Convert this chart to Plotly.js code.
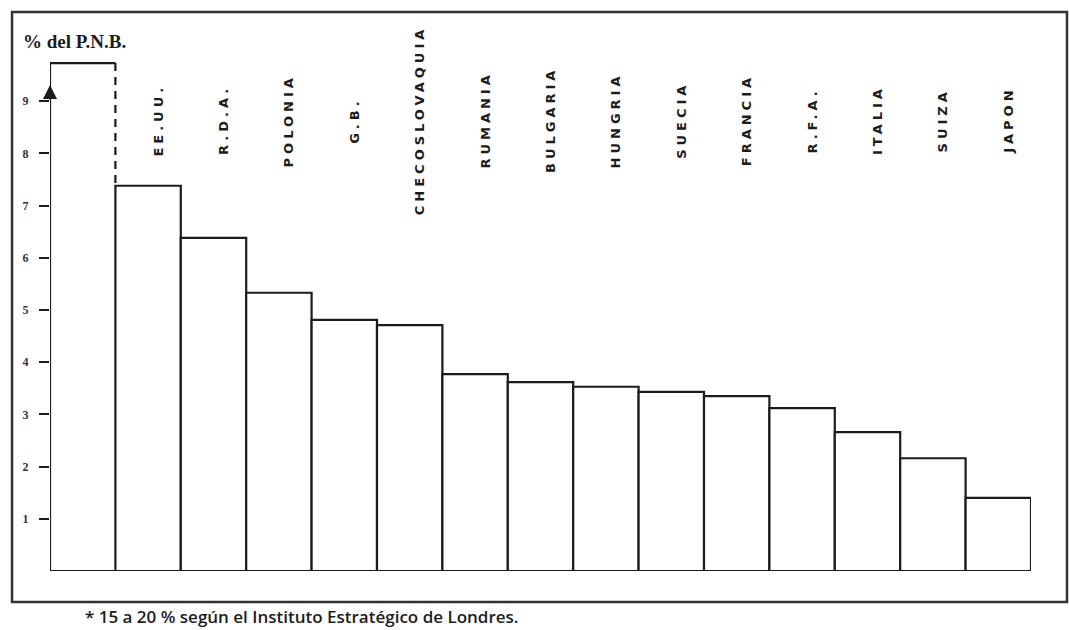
<!DOCTYPE html>
<html>
<head>
<meta charset="utf-8">
<script src="https://cdn.plot.ly/plotly-3.0.1.min.js"></script>
<style>
  html, body { margin: 0; padding: 0; background: #fff; }
  #chart { width: 1069px; height: 630px; }
  .annotation-text.country { letter-spacing: 4px; }
</style>
</head>
<body>
<div id="chart"></div>
<script>
// ---- data ----
const categories = ["URSS*", "EE.UU.", "R.D.A.", "POLONIA", "G.B.", "CHECOSLOVAQUIA", "RUMANIA",
  "BULGARIA", "HUNGRIA", "SUECIA", "FRANCIA", "R.F.A.", "ITALIA", "SUIZA", "JAPON"];
const shownLabels = ["", "EE.UU.", "R.D.A.", "POLONIA", "G.B.", "CHECOSLOVAQUIA", "RUMANIA",
  "BULGARIA", "HUNGRIA", "SUECIA", "FRANCIA", "R.F.A.", "ITALIA", "SUIZA", "JAPON"];
const values = [9.73, 7.38, 6.38, 5.33, 4.81, 4.71, 3.77, 3.62, 3.53, 3.43, 3.35, 3.12, 2.66, 2.16, 1.40];
const yTickVals = [1, 2, 3, 4, 5, 6, 7, 8, 9];
const yTickText = ["1", "2", "3", "4", "5", "6", "7", "8", "9"];
const titleText = "% del P.N.B.";
const footnoteText = "* 15 a 20 % según el Instituto Estratégico de Londres.";

// ---- build ----
const idx = categories.map((_, i) => i);
const ink = "#1c1c1c";

const bars = {
  type: "bar",
  x: idx,
  y: values,
  width: 1,
  marker: {
    color: "#ffffff",
    line: { color: ink, width: idx.map(i => (i === 0 ? 0 : 2.2)) }
  },
  cliponaxis: false,
  hoverinfo: "skip"
};

// truncated first bar: solid left/top/bottom, dashed right edge down to the next bar
const v0 = values[0], v1 = values[1];
const firstSolid = {
  type: "scatter", mode: "lines",
  x: [0.5, -0.5, -0.5, 0.5],
  y: [0, 0, v0, v0],
  line: { color: ink, width: 2.2 },
  cliponaxis: false, hoverinfo: "skip"
};
const firstDashed = {
  type: "scatter", mode: "lines",
  x: [0.5, 0.5],
  y: [v0, v1],
  line: { color: ink, width: 2.2, dash: "8px,6px" },
  cliponaxis: false, hoverinfo: "skip"
};

const annotations = [];
shownLabels.forEach((lab, i) => {
  if (!lab) return;
  annotations.push({
    x: i, y: 8.63, xref: "x", yref: "y",
    text: lab, showarrow: false, textangle: -90,
    xanchor: "center", yanchor: "middle", xshift: 10,
    font: { family: "DejaVu Sans", size: 13, color: ink, weight: 700 },
    captureevents: false
  });
});
// arrow at the top of the vertical axis
annotations.push({
  x: -0.5, y: 9.31, xref: "x", yref: "y",
  text: "", showarrow: true, ax: 0, ay: 16,
  arrowhead: 2, arrowsize: 1.4, arrowwidth: 2, arrowcolor: ink
});
// footnote
annotations.push({
  x: 0.0336, y: -0.087, xref: "paper", yref: "paper",
  text: footnoteText, showarrow: false,
  xanchor: "left", yanchor: "middle",
  font: { family: "Open Sans", size: 17, color: ink, weight: 600 }
});

const layout = {
  width: 1069, height: 630,
  margin: { l: 50, r: 38, t: 49, b: 59, pad: 0 },
  paper_bgcolor: "#ffffff", plot_bgcolor: "#ffffff",
  showlegend: false,
  bargap: 0,
  title: {
    text: titleText,
    x: 0.0215, xanchor: "left", xref: "container",
    y: 0.935, yanchor: "middle", yref: "container",
    font: { family: "Liberation Serif", size: 19, color: ink, weight: 700 }
  },
  xaxis: {
    range: [-0.5, 14.5], showgrid: false, zeroline: false,
    showticklabels: false, showline: false, ticks: "", fixedrange: true
  },
  yaxis: {
    range: [0, 10], showgrid: false, zeroline: false, showline: false,
    tickvals: yTickVals, ticktext: yTickText,
    ticks: "outside", ticklen: 10, tickwidth: 2, tickcolor: ink,
    ticklabelstandoff: 8,
    tickfont: { family: "Liberation Serif", size: 12, color: "#333", weight: 700 },
    fixedrange: true
  },
  annotations: annotations,
  shapes: [{
    type: "rect", xref: "paper", yref: "paper",
    x0: -0.0387, x1: 1.0367, y0: -0.0594, y1: 1.0709,
    line: { color: "#333", width: 2.5 }, fillcolor: "rgba(0,0,0,0)", layer: "above"
  }]
};

Plotly.newPlot("chart", [bars, firstSolid, firstDashed], layout, { staticPlot: true, displayModeBar: false })
  .then(gd => {
    // mark country labels so CSS letter-spacing applies to them
    const nodes = gd.querySelectorAll(".annotation-text");
    nodes.forEach(n => {
      if (shownLabels.indexOf(n.textContent) > 0) n.classList.add("country");
    });
  });
</script>
</body>
</html>
